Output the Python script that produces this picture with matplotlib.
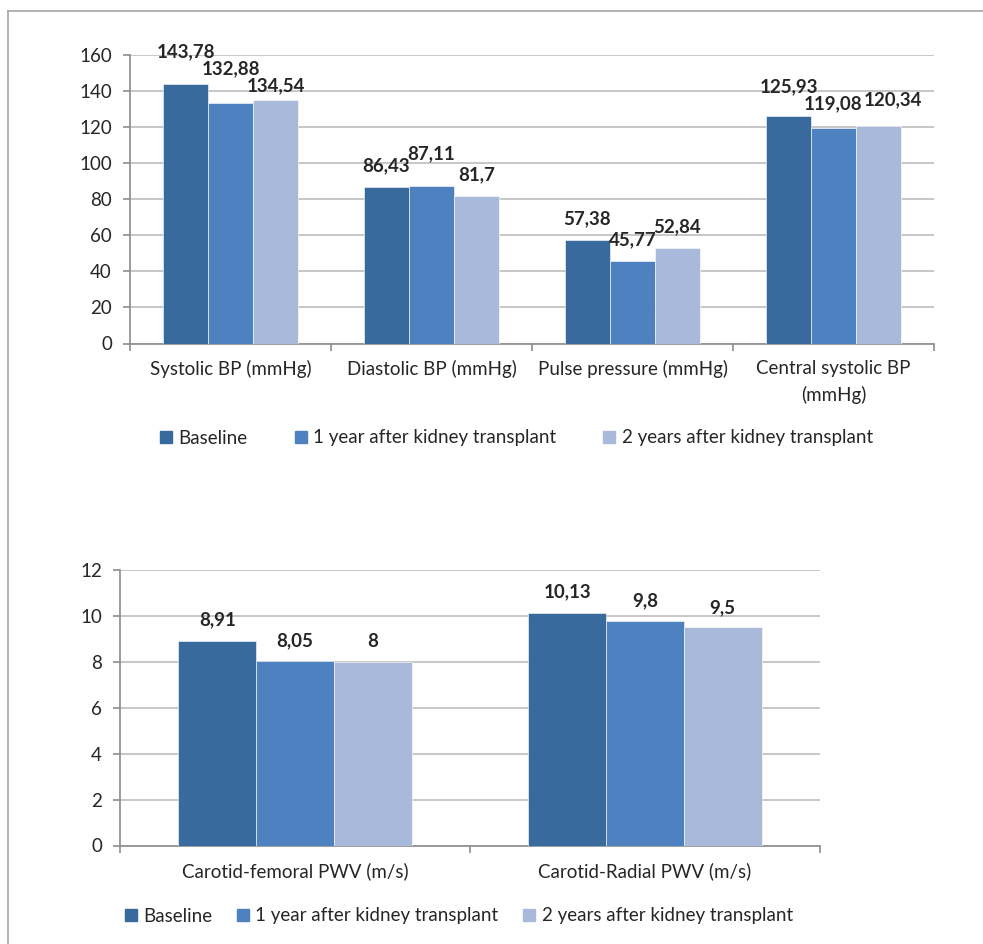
import matplotlib
matplotlib.use("Agg")
import matplotlib.pyplot as plt
from matplotlib.lines import Line2D
import numpy as np

plt.rcParams['font.family'] = ['Lato', 'DejaVu Sans']

series = ["Baseline", "1 year after kidney transplant", "2 years after kidney transplant"]
colors = ["#386A9D", "#4E81BF", "#A9B9D9"]

top_categories = ["Systolic BP (mmHg)", "Diastolic BP (mmHg)", "Pulse pressure (mmHg)",
                  "Central systolic BP\n(mmHg)"]
top_baseline = [143.78, 86.43, 57.38, 125.93]
top_year1 = [132.88, 87.11, 45.77, 119.08]
top_year2 = [134.54, 81.7, 52.84, 120.34]
top_yticks = [0, 20, 40, 60, 80, 100, 120, 140, 160]

bot_categories = ["Carotid-femoral PWV (m/s)", "Carotid-Radial PWV (m/s)"]
bot_baseline = [8.91, 10.13]
bot_year1 = [8.05, 9.8]
bot_year2 = [8.0, 9.5]
bot_yticks = [0, 2, 4, 6, 8, 10, 12]

# data-label offsets from each bar top (pixels), per series, as placed in the original
top_label_dy = [[31.6, 21.7, 21, 29.3], [35, 32.7, 21, 24.7], [14.7, 21, 21, 26]]
top_label_dx = [[0, 0, 0, 0], [0, 0, 0, 0], [0, 0, 0, 14]]
bot_label_dy = [[21, 21], [20, 20], [20, 20]]
bot_label_dx = [[0, 0], [0, 0], [0, 0]]

W, H = 983, 944
fig = plt.figure(figsize=(W / 100, H / 100), dpi=100)

TEXT = "#262626"
GRID = "#BEBEBE"
AXIS = "#8C8C8C"
FS = 13.5


def fmt(v):
    return f"{v:g}".replace('.', ',')


def draw(ax, cats, data, yticks, width, label_dy, label_dx):
    n = len(cats)
    x = np.arange(n)
    for i, (vals, c) in enumerate(zip(data, colors)):
        pos = x + (i - 1) * width
        ax.bar(pos, vals, width=width, color=c, edgecolor='white', linewidth=0.4, zorder=3)
        for px, v, dy, dx in zip(pos, vals, label_dy[i], label_dx[i]):
            ax.annotate(fmt(v), (px, v), xytext=(dx * 0.72, dy * 0.72),
                        textcoords='offset points', ha='center', va='center',
                        fontsize=13.5, fontweight='bold', color=TEXT, zorder=4)
    ax.set_xlim(-0.5, n - 0.5)
    ax.set_ylim(yticks[0], yticks[-1])
    ax.set_yticks(yticks)
    ax.set_yticklabels([str(t) for t in yticks], fontsize=FS, color=TEXT)
    ax.yaxis.grid(True, color=GRID, linewidth=1.2, zorder=0)
    ax.set_axisbelow(True)
    ax.set_xticks(np.arange(n + 1) - 0.5)
    ax.set_xticklabels([])
    ax.set_xticks(x, minor=True)
    ax.set_xticklabels(cats, minor=True, fontsize=FS, color=TEXT, linespacing=1.55)
    ax.tick_params(axis='x', which='minor', length=0, pad=12)
    ax.tick_params(axis='x', which='major', length=5, color=AXIS, width=1.2)
    ax.tick_params(axis='y', length=5, color=AXIS, width=1.2, pad=8)
    for s in ['top', 'right']:
        ax.spines[s].set_visible(False)
    for s in ['left', 'bottom']:
        ax.spines[s].set_color(AXIS)
        ax.spines[s].set_linewidth(1.2)


ax1 = fig.add_axes([130 / W, 1 - 343.5 / H, (934 - 130) / W, (343.5 - 54.5) / H])
draw(ax1, top_categories, [top_baseline, top_year1, top_year2], top_yticks, 0.224,
     top_label_dy, top_label_dx)

ax2 = fig.add_axes([120 / W, 1 - 845.5 / H, (820 - 120) / W, (845.5 - 570) / H])
draw(ax2, bot_categories, [bot_baseline, bot_year1, bot_year2], bot_yticks, 0.222,
     bot_label_dy, bot_label_dx)

handles = [Line2D([], [], marker='s', linestyle='none', markersize=9, color=c) for c in colors]
fig.legend(handles, series, loc='center', bbox_to_anchor=(515.5 / W, 1 - 438 / H), ncol=3,
           frameon=False, fontsize=FS, handletextpad=0.25, handlelength=0.8,
           columnspacing=2.45, labelcolor=TEXT)
fig.legend(handles, series, loc='center', bbox_to_anchor=(458 / W, 1 - 916 / H), ncol=3,
           frameon=False, fontsize=FS, handletextpad=0.25, handlelength=0.8,
           columnspacing=1.25, labelcolor=TEXT)

# outer border
fig.add_artist(Line2D([8 / W, 1], [1 - 11 / H, 1 - 11 / H], color="#A6A6A6", linewidth=1.2,
                      transform=fig.transFigure))
fig.add_artist(Line2D([8 / W, 8 / W], [0, 1 - 11 / H], color="#A6A6A6", linewidth=1.2,
                      transform=fig.transFigure))

fig.savefig("out.png", dpi=100)
